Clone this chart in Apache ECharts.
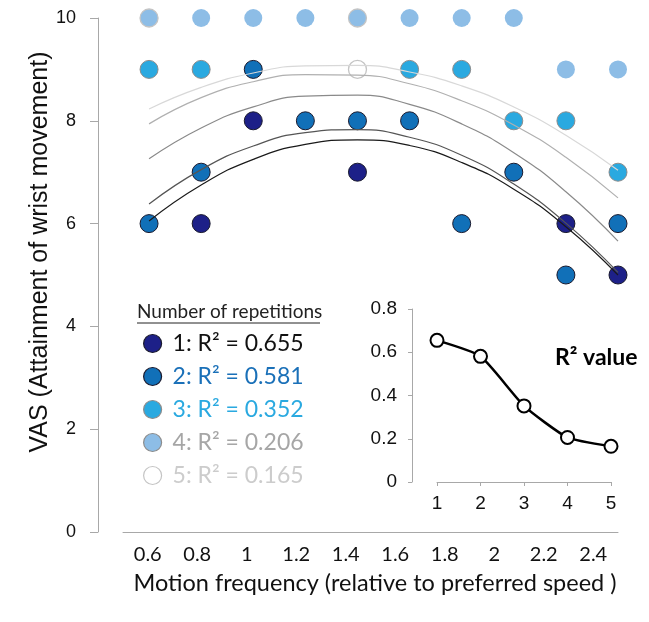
<!DOCTYPE html>
<html lang="en">
<head>
    <meta charset="UTF-8">
    <title>VAS vs motion frequency</title>
    <script src="https://cdn.jsdelivr.net/npm/echarts@6/dist/echarts.min.js"></script>
    <style>
        html, body { margin: 0; padding: 0; background: #fff; }
    </style>
</head>
<body>
    <div id="main" style="width: 649px; height: 622px;"></div>
    <script>
        // x categories (motion frequency) and the frequencies of the points
        const freqLabels = ['0.6', '0.8', '1', '1.2', '1.4', '1.6', '1.8', '2', '2.2', '2.4'];
        const trendX = [0.6, 0.8, 1.0, 1.2, 1.4, 1.6, 1.8, 2.0, 2.2, 2.4];

        // visible points per number of repetitions [freq, VAS]
        const rep1Pts = [[0.8, 6], [1, 8], [1.4, 7], [2.2, 6], [2.4, 5]];
        const rep2Pts = [[0.6, 6], [0.8, 7], [1, 9], [1.2, 8], [1.4, 8], [1.6, 8], [1.8, 6], [2, 7], [2.2, 5], [2.4, 6]];
        const rep3Pts = [[0.6, 9], [0.8, 9], [1.6, 9], [1.8, 9], [2, 8], [2.2, 8], [2.4, 7]];
        const rep4Pts = [[0.6, 10], [0.8, 10], [1, 10], [1.2, 10], [1.4, 10], [1.6, 10], [1.8, 10], [2, 10], [2.2, 9], [2.4, 9]];
        const rep5Pts = [[0.6, 10], [1.4, 10], [1.4, 9]];

        // quadratic trend lines at each frequency
        const trend1 = [6.05, 6.75, 7.25, 7.54, 7.63, 7.52, 7.19, 6.67, 5.94, 5.00];
        const trend2 = [6.38, 7.05, 7.51, 7.77, 7.83, 7.68, 7.33, 6.77, 6.01, 5.05];
        const trend3 = [7.26, 7.86, 8.27, 8.48, 8.50, 8.32, 7.94, 7.38, 6.62, 5.66];
        const trend4 = [7.94, 8.45, 8.76, 8.90, 8.89, 8.72, 8.39, 7.92, 7.29, 6.50];
        const trend5 = [8.23, 8.65, 8.93, 9.07, 9.08, 8.95, 8.68, 8.27, 7.72, 7.04];

        // inset: R² by number of repetitions
        const repLabels = ['1', '2', '3', '4', '5'];
        const rSquared = [0.655, 0.581, 0.352, 0.206, 0.165];

        const seriesNames = ['1: R² = 0.655', '2: R² = 0.581', '3: R² = 0.352', '4: R² = 0.206', '5: R² = 0.165'];

        const allPts = [rep1Pts, rep2Pts, rep3Pts, rep4Pts, rep5Pts];
        const allTrends = [trend1, trend2, trend3, trend4, trend5];
        const fills = ['#1d2088', '#1170b8', '#2aa9e0', '#8dbde6', 'rgba(255,255,255,0)'];
        const borders = ['#1a1a2e', '#1a1a2e', '#8c8c8c', '#8dbde6', '#c4c4c4'];
        const borderW = [1, 1, 1, 0, 1.3];
        const legendBorders = ['#1a1a2e', '#1a1a2e', '#8c8c8c', '#8c8c8c', '#c4c4c4'];
        const legendColors = ['#111111', '#1a70b8', '#2aa9e0', '#a6a6a6', '#cccccc'];
        const trendColors = ['#1a1a1a', '#555555', '#8a8a8a', '#b0b0b0', '#d8d8d8'];

        const calibri = 'Lato, "Open Sans", sans-serif';
        const arial = '"Liberation Sans", Arial, sans-serif';

        const series = [];
        allPts.forEach((pts, i) => {
            series.push({
                name: seriesNames[i],
                type: 'scatter',
                xAxisIndex: 0,
                yAxisIndex: 0,
                symbolSize: 18,
                clip: false,
                itemStyle: { color: fills[i], borderColor: borders[i], borderWidth: borderW[i], opacity: 1 },
                data: pts,
                z: 2 + i
            });
        });
        allTrends.forEach((tr, i) => {
            series.push({
                type: 'line',
                xAxisIndex: 0,
                yAxisIndex: 0,
                smooth: true,
                showSymbol: false,
                silent: true,
                lineStyle: { color: trendColors[i], width: 1.2 },
                data: trendX.map((x, k) => [x, tr[k]]),
                z: 12 - i
            });
        });
        series.push({
            type: 'line',
            xAxisIndex: 2,
            yAxisIndex: 1,
            smooth: 0.18,
            symbol: 'emptyCircle',
            symbolSize: 13,
            lineStyle: { color: '#000', width: 2.5 },
            itemStyle: { color: '#000', borderColor: '#000', borderWidth: 2 },
            data: rSquared,
            z: 20
        });

        const chart = echarts.init(document.getElementById('main'));
        chart.setOption({
            animation: false,
            backgroundColor: '#fff',
            grid: [
                { left: 123, top: 18, width: 495, height: 514 },
                { left: 437, top: 309, width: 174, height: 173 }
            ],
            xAxis: [
                { type: 'value', gridIndex: 0, min: 0.5, max: 2.4, show: false },
                {
                    type: 'category', gridIndex: 0, position: 'bottom', data: freqLabels, boundaryGap: true,
                    axisLine: { lineStyle: { color: '#a8a8a8' } },
                    axisTick: { length: 6, lineStyle: { color: '#a8a8a8' } },
                    axisLabel: { color: '#111', fontFamily: calibri, fontSize: 20, margin: 13 },
                    splitLine: { show: false }
                },
                {
                    type: 'category', gridIndex: 1, data: repLabels, boundaryGap: false, offset: 5,
                    axisLine: { lineStyle: { color: '#a8a8a8' } },
                    axisTick: { length: 4, lineStyle: { color: '#a8a8a8' } },
                    axisLabel: { color: '#111', fontFamily: arial, fontSize: 19, margin: 7 },
                    splitLine: { show: false }
                }
            ],
            yAxis: [
                {
                    type: 'value', gridIndex: 0, min: 0, max: 10, interval: 2, offset: 25,
                    axisLine: { show: true, lineStyle: { color: '#a8a8a8' } },
                    axisTick: { show: true, length: 8, lineStyle: { color: '#a8a8a8' } },
                    axisLabel: { color: '#111', fontFamily: arial, fontSize: 18, margin: 22 },
                    splitLine: { show: false }
                },
                {
                    type: 'value', gridIndex: 1, min: 0, max: 0.8, interval: 0.2, offset: 25,
                    axisLine: { show: true, lineStyle: { color: '#a8a8a8' } },
                    axisTick: { show: true, length: 4, lineStyle: { color: '#a8a8a8' } },
                    axisLabel: { color: '#111', fontFamily: arial, fontSize: 19, margin: 15 },
                    splitLine: { show: false }
                }
            ],
            legend: {
                orient: 'vertical',
                left: 143,
                top: 332,
                padding: 0,
                itemWidth: 18,
                itemHeight: 18,
                itemGap: 10,
                selectedMode: false,
                textStyle: { fontFamily: calibri, fontSize: 23, padding: [0, 0, 0, 6] },
                data: seriesNames.map((n, i) => ({
                    name: n, icon: 'circle',
                    itemStyle: { borderColor: legendBorders[i], borderWidth: 1.2 },
                    textStyle: { color: legendColors[i] }
                }))
            },
            graphic: [
                {
                    type: 'text', left: 137, top: 302,
                    style: { text: 'Number of repetitions', fontFamily: calibri, fontSize: 19, fill: '#222' }
                },
                {
                    type: 'line', shape: { x1: 137, y1: 323, x2: 320, y2: 323 },
                    style: { stroke: '#222', lineWidth: 1 }
                },
                {
                    type: 'text', left: 555, top: 346,
                    style: { text: 'R² value', fontFamily: calibri, fontSize: 23, fontWeight: 'bold', fill: '#000' }
                },
                {
                    type: 'text', x: 40, y: 252, rotation: Math.PI / 2,
                    style: { text: 'VAS (Attainment of wrist movement)', fontFamily: arial, fontSize: 25, fill: '#111', align: 'center', verticalAlign: 'middle' }
                },
                {
                    type: 'text', x: 375, y: 583,
                    style: { text: 'Motion frequency (relative to preferred speed )', fontFamily: calibri, fontSize: 23.5, fill: '#111', align: 'center', verticalAlign: 'middle' }
                }
            ],
            series: series
        });
    </script>
</body>
</html>
